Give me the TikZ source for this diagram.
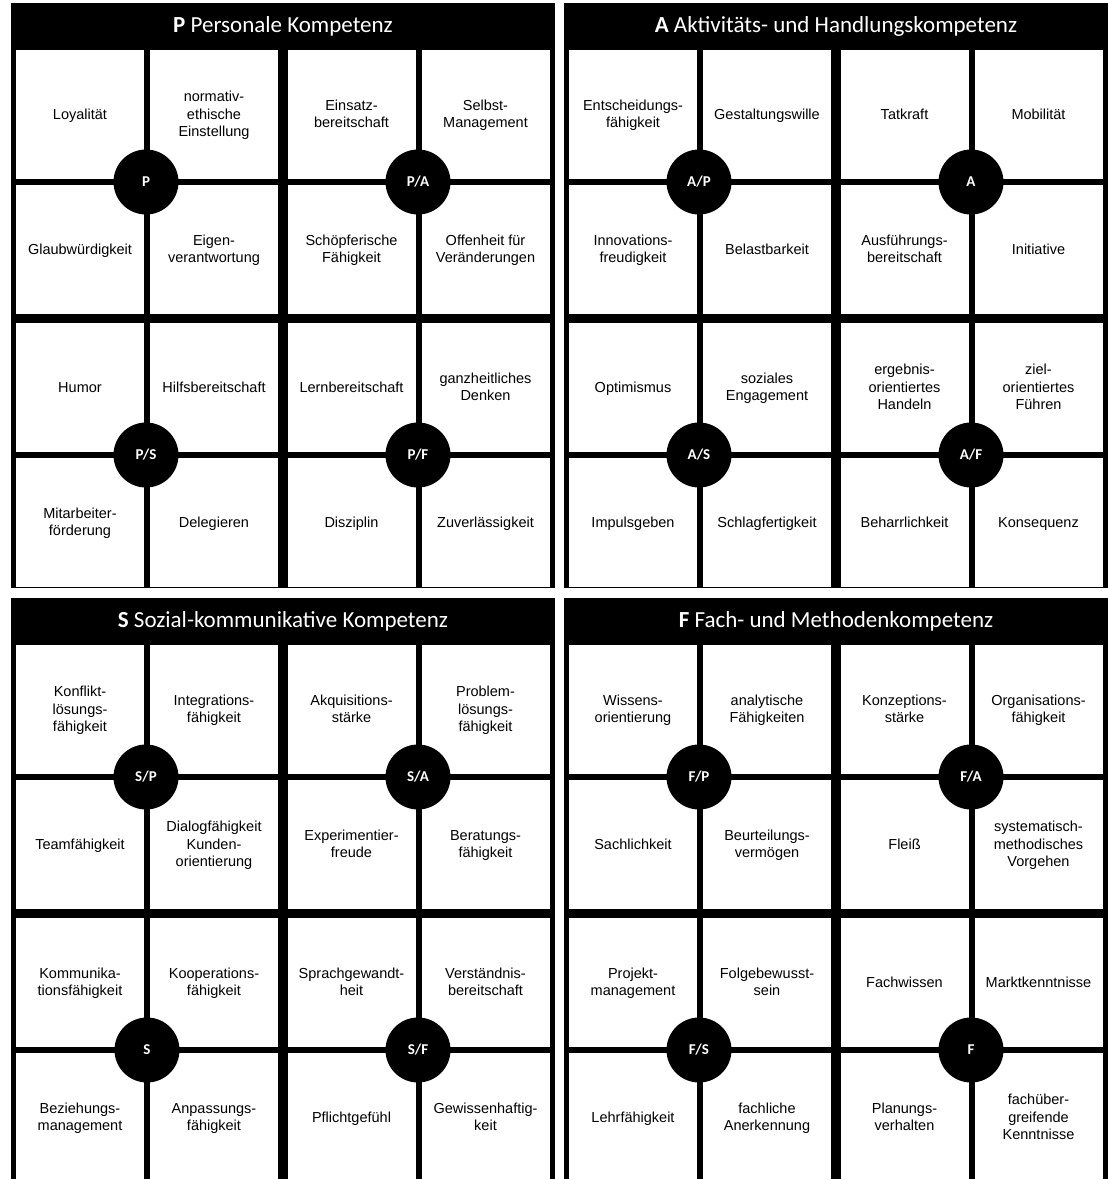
\documentclass[tikz,border=0pt]{standalone}
\usepackage{fontspec}
\setmainfont{Liberation Sans}
\newfontfamily\headfont{Carlito}

\tikzset{
  celltext/.style={inner sep=0pt, font=\fontsize{14.5}{17.7}\selectfont},
  knot/.style={circle, fill=black, minimum size=65pt, inner sep=0pt, text=white,
    font=\headfont\bfseries\fontsize{15}{15}\selectfont},
  headtext/.style={inner sep=0pt, text=white, font=\headfont\fontsize{23}{23}\selectfont},
}
\newcommand\lines[1]{\begin{tabular}{@{}c@{}}#1\end{tabular}}

\begin{document}
\begin{tikzpicture}[x=1pt,y=-1pt]
  \useasboundingbox (0,0) rectangle (1108,1179);
  \clip (0,0) rectangle (1108,1179);
  % black frames, white cells
  \foreach \bx/\by in {11/3,564/3,11/598,564/598} {
    \fill [black] (\bx,\by) rectangle ++(544,584.5);
    \foreach \c in {1,...,4} \foreach \r in {1,...,4} {
      \fill [white] ({\bx+5+134*(\c-1)+3.5*(\c>2)},{\by+47+135*(\r-1)+3*(\r>2)})
        rectangle ++(128,129);
    }
  }
  % headers
  \node [headtext] (hP) at (283,26.5) {\textbf{P} Personale Kompetenz};
  \node [headtext] (hA) at (836,26.5) {\textbf{A} Aktivitäts- und Handlungskompetenz};
  \node [headtext] (hS) at (283,621.5) {\textbf{S} Sozial-kommunikative Kompetenz};
  \node [headtext] (hF) at (836,621.5) {\textbf{F} Fach- und Methodenkompetenz};
  % P
  \def\bx{11} \def\by{3}
  \foreach \c/\r/\t in {1/1/Loyalität, 2/1/{normativ-\\ethische\\Einstellung},
      3/1/{Einsatz-\\bereitschaft}, 4/1/{Selbst-\\Management},
      1/2/Glaubwürdigkeit, 2/2/{Eigen-\\verantwortung},
      3/2/{Schöpferische\\Fähigkeit}, 4/2/{Offenheit für\\Veränderungen},
      1/3/Humor, 2/3/Hilfsbereitschaft, 3/3/Lernbereitschaft, 4/3/{ganzheitliches\\Denken},
      1/4/{Mitarbeiter-\\förderung}, 2/4/Delegieren, 3/4/Disziplin, 4/4/Zuverlässigkeit} {
    \pgfmathsetmacro\px{\bx+69+134*(\c-1)+3.5*(\c>2)}
    \pgfmathsetmacro\py{\by+112.5+135*(\r-1)+3*(\r>2)}
    \node [celltext] (P\c\r) at (\px,\py) {\lines{\t}};
  }
  % A
  \def\bx{564} \def\by{3}
  \foreach \c/\r/\t in {1/1/{Entscheidungs-\\fähigkeit}, 2/1/Gestaltungswille,
      3/1/Tatkraft, 4/1/Mobilität,
      1/2/{Innovations-\\freudigkeit}, 2/2/Belastbarkeit,
      3/2/{Ausführungs-\\bereitschaft}, 4/2/Initiative,
      1/3/Optimismus, 2/3/{soziales\\Engagement},
      3/3/{ergebnis-\\orientiertes\\Handeln}, 4/3/{ziel-\\orientiertes\\Führen},
      1/4/Impulsgeben, 2/4/Schlagfertigkeit, 3/4/Beharrlichkeit, 4/4/Konsequenz} {
    \pgfmathsetmacro\px{\bx+69+134*(\c-1)+3.5*(\c>2)}
    \pgfmathsetmacro\py{\by+112.5+135*(\r-1)+3*(\r>2)}
    \node [celltext] (A\c\r) at (\px,\py) {\lines{\t}};
  }
  % S
  \def\bx{11} \def\by{598}
  \foreach \c/\r/\t in {1/1/{Konflikt-\\lösungs-\\fähigkeit}, 2/1/{Integrations-\\fähigkeit},
      3/1/{Akquisitions-\\stärke}, 4/1/{Problem-\\lösungs-\\fähigkeit},
      1/2/Teamfähigkeit, 2/2/{Dialogfähigkeit\\Kunden-\\orientierung},
      3/2/{Experimentier-\\freude}, 4/2/{Beratungs-\\fähigkeit},
      1/3/{Kommunika-\\tionsfähigkeit}, 2/3/{Kooperations-\\fähigkeit},
      3/3/{Sprachgewandt-\\heit}, 4/3/{Verständnis-\\bereitschaft},
      1/4/{Beziehungs-\\management}, 2/4/{Anpassungs-\\fähigkeit},
      3/4/Pflichtgefühl, 4/4/{Gewissenhaftig-\\keit}} {
    \pgfmathsetmacro\px{\bx+69+134*(\c-1)+3.5*(\c>2)}
    \pgfmathsetmacro\py{\by+112.5+135*(\r-1)+3*(\r>2)}
    \node [celltext] (S\c\r) at (\px,\py) {\lines{\t}};
  }
  % F
  \def\bx{564} \def\by{598}
  \foreach \c/\r/\t in {1/1/{Wissens-\\orientierung}, 2/1/{analytische\\Fähigkeiten},
      3/1/{Konzeptions-\\stärke}, 4/1/{Organisations-\\fähigkeit},
      1/2/Sachlichkeit, 2/2/{Beurteilungs-\\vermögen},
      3/2/Fleiß, 4/2/{systematisch-\\methodisches\\Vorgehen},
      1/3/{Projekt-\\management}, 2/3/{Folgebewusst-\\sein},
      3/3/Fachwissen, 4/3/Marktkenntnisse,
      1/4/Lehrfähigkeit, 2/4/{fachliche\\Anerkennung},
      3/4/{Planungs-\\verhalten}, 4/4/{fachüber-\\greifende\\Kenntnisse}} {
    \pgfmathsetmacro\px{\bx+69+134*(\c-1)+3.5*(\c>2)}
    \pgfmathsetmacro\py{\by+112.5+135*(\r-1)+3*(\r>2)}
    \node [celltext] (F\c\r) at (\px,\py) {\lines{\t}};
  }
  % knots
  \node [knot] (kP)  at (146,182) {P};
  \node [knot] (kPA) at (418,182) {P/A};
  \node [knot] (kPS) at (146,455) {P/S};
  \node [knot] (kPF) at (418,455) {P/F};
  \node [knot] (kAP) at (699,182) {A/P};
  \node [knot] (kA)  at (971,182) {A};
  \node [knot] (kAS) at (699,455) {A/S};
  \node [knot] (kAF) at (971,455) {A/F};
  \node [knot] (kSP) at (146,777) {S/P};
  \node [knot] (kSA) at (418,777) {S/A};
  \node [knot] (kS)  at (147,1050) {S};
  \node [knot] (kSF) at (418,1050) {S/F};
  \node [knot] (kFP) at (699,777) {F/P};
  \node [knot] (kFA) at (971,777) {F/A};
  \node [knot] (kFS) at (699,1050) {F/S};
  \node [knot] (kF)  at (971,1050) {F};
\end{tikzpicture}
\end{document}
